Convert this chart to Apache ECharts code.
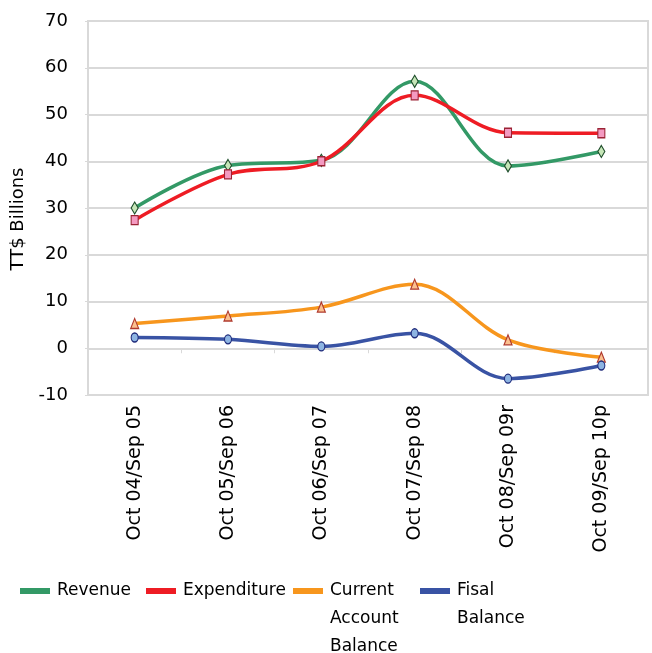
<!DOCTYPE html>
<html>
<head>
<meta charset="utf-8">
<script src="https://cdn.jsdelivr.net/npm/echarts@6/dist/echarts.min.js"></script>
<style>html,body{margin:0;padding:0;background:#fff}#c{width:652px;height:653px}</style>
</head>
<body>
<div id="c"></div>
<script>
const categories = ['Oct 04/Sep 05','Oct 05/Sep 06','Oct 06/Sep 07','Oct 07/Sep 08','Oct 08/Sep 09r','Oct 09/Sep 10p'];
const revenue = [30, 39.1, 40.2, 57.1, 39, 42.1];
const expenditure = [27.4, 37.2, 40, 54.1, 46.1, 46];
const currentAccount = [5.3, 6.9, 8.8, 13.7, 1.8, -1.9];
const fiscalBalance = [2.3, 1.9, 0.4, 3.2, -6.5, -3.7];
const yTicks = {min: -10, max: 70, interval: 10};
const legendLabels = {
  'Revenue': ['Revenue'],
  'Expenditure': ['Expenditure'],
  'Current Account Balance': ['Current', 'Account', 'Balance'],
  'Fisal Balance': ['Fisal', 'Balance']
};

const FONT = 'DejaVu Sans';
const GRID = '#d9d9d9';
const LH = 28;

function lineSeries(name, data, color, symbol, size, fill, border) {
  return {
    name, type: 'line', data, smooth: 0.35,
    symbol, symbolSize: size, showSymbol: true,
    lineStyle: {color, width: 3.5},
    itemStyle: {color: fill, borderColor: border, borderWidth: 1.2},
    emphasis: {disabled: true},
    z: 3
  };
}

function legendItem(name, color, left) {
  const n = legendLabels[name].length;
  return {
    left, top: 577 - LH * (n - 1), padding: 0, icon: 'rect', itemWidth: 30, itemHeight: 6,
    selectedMode: false,
    data: [{name, itemStyle: {color, borderWidth: 0}, lineStyle: {width: 0}}],
    formatter: nm => {
      const l = legendLabels[nm];
      const pad = new Array(l.length - 1).fill('');
      return pad.concat(l).join('\n');
    },
    textStyle: {fontFamily: FONT, fontSize: 17, color: '#000', lineHeight: LH, padding: [0, 0, 0, 2]}
  };
}

const chart = echarts.init(document.getElementById('c'), null, {renderer: 'canvas'});
chart.setOption({
  animation: false,
  grid: {left: 88, right: 4, top: 21, bottom: 258, show: true, borderColor: GRID, borderWidth: 2, containLabel: false},
  xAxis: {
    type: 'category', data: categories, boundaryGap: true,
    axisLine: {show: true, onZero: true, lineStyle: {color: GRID, width: 2}},
    axisTick: {show: true, length: 5, lineStyle: {color: GRID, width: 1}},
    axisLabel: {rotate: 90, margin: 10, fontFamily: FONT, fontSize: 19, color: '#000', interval: 0},
    splitLine: {show: false}
  },
  yAxis: {
    type: 'value', min: yTicks.min, max: yTicks.max, interval: yTicks.interval,
    name: 'TT$ Billions', nameLocation: 'middle', nameGap: 49, nameRotate: 90,
    nameTextStyle: {fontFamily: FONT, fontSize: 18, color: '#000', padding: [0, 22, 0, 0]},
    axisLine: {show: true, lineStyle: {color: GRID, width: 2}},
    axisTick: {show: true, length: 3, lineStyle: {color: GRID}},
    axisLabel: {margin: 20, fontFamily: FONT, fontSize: 18, color: '#000'},
    splitLine: {show: true, lineStyle: {color: GRID, width: 2}}
  },
  legend: [
    legendItem('Revenue', '#339966', 20),
    legendItem('Expenditure', '#ee1c24', 146),
    legendItem('Current Account Balance', '#f7961d', 293),
    legendItem('Fisal Balance', '#3953a4', 420)
  ],
  series: [
    lineSeries('Revenue', revenue, '#339966', 'diamond', [7, 12], '#c6e6b8', '#1e4d2b'),
    lineSeries('Expenditure', expenditure, '#ee1c24', 'rect', [7, 9], '#f49ac1', '#9b2335'),
    lineSeries('Current Account Balance', currentAccount, '#f7961d', 'triangle', [8, 10], '#fbc08f', '#b03a2e'),
    lineSeries('Fisal Balance', fiscalBalance, '#3953a4', 'circle', [7, 9], '#8db4e2', '#1f2a7a')
  ]
});
</script>
</body>
</html>
